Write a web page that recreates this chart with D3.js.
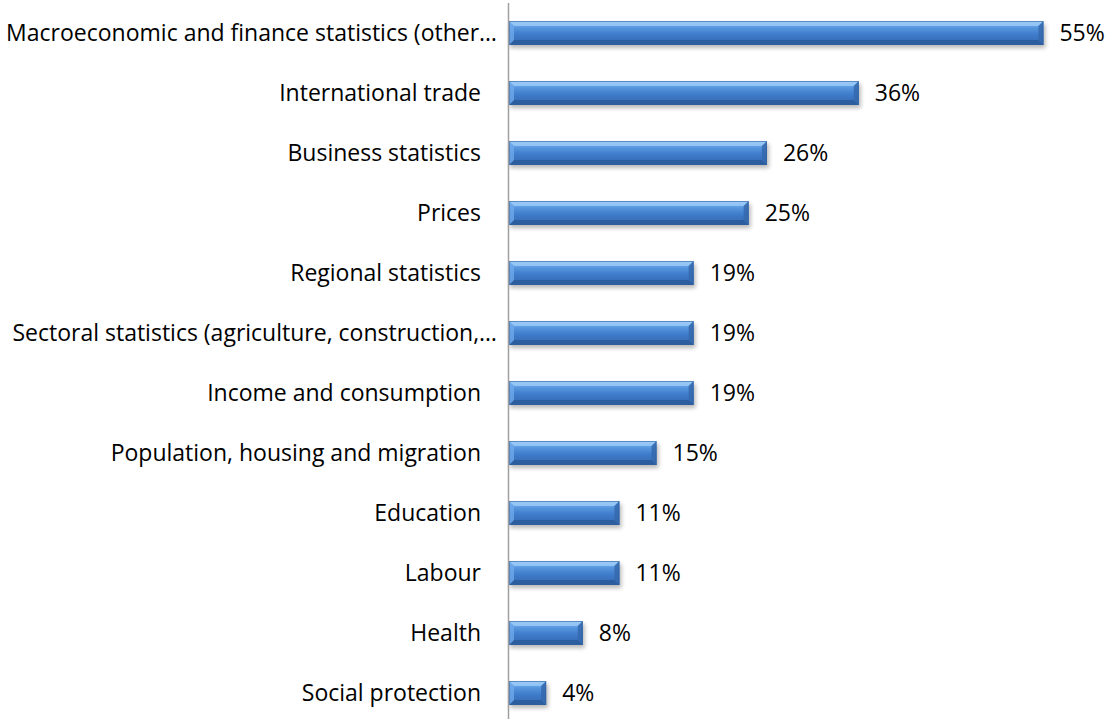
<!DOCTYPE html>
<html>
<head>
<meta charset="utf-8">
<script src="https://cdn.jsdelivr.net/npm/d3@7"></script>
<style>
  html, body { margin: 0; padding: 0; background: #ffffff; }
  svg { display: block; }
  text { font-family: "Open Sans", sans-serif; fill: #000; }
</style>
</head>
<body>
<svg id="chart" width="1106" height="719"></svg>
<script>
const categories = [
  "Macroeconomic and finance statistics (other\u2026",
  "International trade",
  "Business statistics",
  "Prices",
  "Regional statistics",
  "Sectoral statistics (agriculture, construction,\u2026",
  "Income and consumption",
  "Population, housing and migration",
  "Education",
  "Labour",
  "Health",
  "Social protection"
];
const values = [54.7, 35.8, 26.4, 24.53, 18.9, 18.9, 18.9, 15.1, 11.3, 11.3, 7.55, 3.8];

const svg = d3.select("#chart");
const W = 1106, H = 719;
const x0 = 509;
const x = d3.scaleLinear().domain([0, 60]).range([x0, x0 + 586.2]);
const y = d3.scaleBand().domain(categories).range([3, 723]).paddingInner(0.6).paddingOuter(0.3);
const FS = 23;

const defs = svg.append("defs");
const grad = defs.append("linearGradient").attr("id", "barGrad").attr("x1", 0).attr("y1", 0).attr("x2", 0).attr("y2", 1);
grad.append("stop").attr("offset", "0%").attr("stop-color", "#8cc0f5");
grad.append("stop").attr("offset", "25%").attr("stop-color", "#5a9ae0");
grad.append("stop").attr("offset", "55%").attr("stop-color", "#3f7ccb");
grad.append("stop").attr("offset", "100%").attr("stop-color", "#3468b0");

const blur = defs.append("filter").attr("id", "shadow").attr("x", "-10%").attr("y", "-50%").attr("width", "120%").attr("height", "200%");
blur.append("feGaussianBlur").attr("stdDeviation", 2);

const data = categories.map((c, i) => ({ c, v: values[i] }));
const bars = svg.append("g").selectAll("g").data(data).join("g");

bars.append("rect")
  .attr("x", x0 + 1)
  .attr("y", d => y(d.c) + 3)
  .attr("width", d => x(d.v) - x0 + 1)
  .attr("height", y.bandwidth())
  .attr("fill", "#000").attr("opacity", 0.28)
  .attr("filter", "url(#shadow)");

bars.append("rect")
  .attr("x", x0)
  .attr("y", d => y(d.c))
  .attr("width", d => x(d.v) - x0)
  .attr("height", y.bandwidth())
  .attr("fill", "url(#barGrad)");

const b = 5;
function poly(d, which) {
  const l = x0, r = x(d.v), t = y(d.c), btm = y(d.c) + y.bandwidth();
  let pts;
  if (which === "top") pts = [[l, t], [r, t], [r - b, t + b], [l + b, t + b]];
  else if (which === "bottom") pts = [[l, btm], [r, btm], [r - b, btm - b], [l + b, btm - b]];
  else if (which === "left") pts = [[l, t], [l + b, t + b], [l + b, btm - b], [l, btm]];
  else pts = [[r, t], [r - b, t + b], [r - b, btm - b], [r, btm]];
  return pts.map(p => p.join(",")).join(" ");
}
bars.append("polygon").attr("points", d => poly(d, "top")).attr("fill", "#9fcdf8").attr("opacity", 0.75);
bars.append("polygon").attr("points", d => poly(d, "bottom")).attr("fill", "#2a5a9a").attr("opacity", 0.85);
bars.append("polygon").attr("points", d => poly(d, "left")).attr("fill", "#6ea9ea").attr("opacity", 0.8);
bars.append("polygon").attr("points", d => poly(d, "right")).attr("fill", "#3569ad").attr("opacity", 0.85);
bars.append("rect")
  .attr("x", x0 + 0.5)
  .attr("y", d => y(d.c) + 0.5)
  .attr("width", d => x(d.v) - x0 - 1)
  .attr("height", y.bandwidth() - 1)
  .attr("fill", "none").attr("stroke", "#2e5f9e").attr("stroke-width", 1).attr("opacity", 0.6);

// value labels
svg.append("g").selectAll("text").data(data).join("text")
  .attr("x", d => x(d.v) + 16)
  .attr("y", d => y(d.c) + y.bandwidth() / 2)
  .attr("dy", "0.36em")
  .attr("font-size", FS)
  .text(d => d3.format(".0f")(d.v) + "%");

// axis line
svg.append("line")
  .attr("x1", x0 - 0.5).attr("x2", x0 - 0.5)
  .attr("y1", 3).attr("y2", H)
  .attr("stroke", "#a0a0a0").attr("stroke-width", 1.5);

// category labels
svg.append("g").selectAll("text").data(data).join("text")
  .attr("x", d => d.c.endsWith("\u2026") ? 497 : 481)
  .attr("y", d => y(d.c) + y.bandwidth() / 2)
  .attr("dy", "0.36em")
  .attr("text-anchor", "end")
  .attr("font-size", FS)
  .text(d => d.c);
</script>
</body>
</html>
